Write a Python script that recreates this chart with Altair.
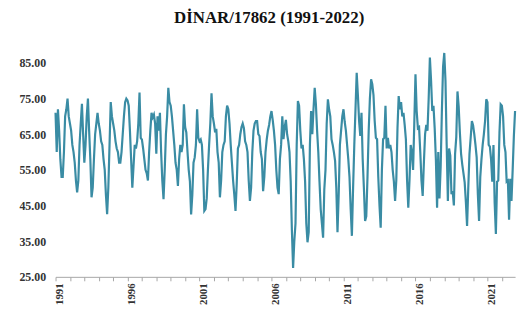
import altair as alt
import pandas as pd

# Monthly values (Jan..Dec), grouped by decade
values_1991_2000 = [
    71, 60, 72, 66, 58, 53, 53, 60, 70, 72, 75, 70,        # 1991
    68, 66, 62, 60, 57, 52, 48.7, 52, 62, 68, 73.5, 65,    # 1992
    57, 62, 70, 75, 66, 58, 47.3, 50, 58, 65, 68, 71,      # 1993
    68, 66, 63, 62, 58, 55, 48, 42.6, 50, 62, 74, 70,      # 1994
    68, 66, 63, 61, 60, 57, 57, 60, 65, 70, 74, 75,        # 1995
    74.5, 73, 66, 58, 50, 56, 62, 61, 63, 68, 76.7, 64,    # 1996
    63.5, 61, 58, 55, 54, 52, 60, 66, 71, 69.7, 70.5, 68,  # 1997
    59.5, 70, 66, 71, 60, 52, 46.8, 55, 65, 70, 78, 74,    # 1998
    73, 70, 66, 62, 57, 55, 50.5, 58, 62, 60, 62, 73.4,    # 1999
    67, 65.5, 60, 55, 51.7, 42.5, 48, 57, 58.5, 62, 72, 64,  # 2000
]
values_2001_2010 = [
    63, 63.5, 62, 55, 43.5, 44, 47, 55, 62, 68, 76.5, 70,  # 2001
    68, 65.5, 66.5, 60, 57, 47.3, 52, 60, 62, 63, 70, 73,  # 2002
    72, 68, 62, 57, 52, 48, 43.5, 51, 61, 62, 65, 67,      # 2003
    68, 66.7, 63, 62, 60, 52, 46.3, 50, 60, 66, 68, 68.7,  # 2004
    68.7, 65, 64.5, 60, 58, 49, 53, 60, 63.5, 66, 67.6, 70,  # 2005
    71.5, 69, 66, 62, 55, 50, 48.2, 58, 62, 70, 63.6, 67,  # 2006
    69, 65, 63, 60, 51.7, 38, 27.5, 35, 40, 62, 74.3, 73,  # 2007
    66, 61, 62, 58, 51.7, 40, 34.7, 37.5, 62, 71.5, 65, 72,  # 2008
    78, 73.4, 66, 60, 51.7, 44, 40, 36, 49.5, 55, 68, 74.8,  # 2009
    72, 70, 63.6, 62, 60, 57.5, 50, 37.5, 48, 62, 66, 70,  # 2010
]
values_2011_2022 = [
    72, 68.5, 66, 62, 58, 53, 44, 36.5, 50, 62, 72, 82.2,  # 2011
    76, 68.7, 64.5, 71, 58, 50, 40.7, 42, 53, 66, 75, 80.4,  # 2012
    79, 76, 68.7, 64, 63.6, 53, 45, 38.8, 55, 63.6, 64, 73,  # 2013
    61, 64, 61, 62, 60, 55, 51.7, 46.3, 52, 66.7, 75.7, 72,  # 2014
    74, 70, 71, 67.6, 63.6, 52, 44.4, 52, 62, 60, 55, 68,  # 2015
    81.8, 71.5, 66.7, 67, 60, 52, 47.7, 57, 65, 67.6, 66, 75,  # 2016
    86.5, 80, 71.5, 73, 66.7, 58, 44.4, 60, 47, 56, 71.5, 84,  # 2017
    87.8, 80, 62, 46.3, 61, 59, 48.2, 49, 45, 59.5, 64.2, 77,  # 2018
    72.8, 65.5, 59.5, 56.5, 54, 51.5, 46, 39.3, 50, 59.5, 64, 68.7,  # 2019
    67.5, 65, 62, 58.5, 48, 40.7, 53, 58, 62, 65, 68.7, 74.8,  # 2020
    74, 62, 61.5, 58, 51.7, 62, 45.7, 37, 51.7, 52, 65.5, 73.4,  # 2021
    73, 70, 62, 60, 51.7, 52, 41, 52.5, 46.3, 55, 64.5, 71.5,  # 2022
]

first_year = 1991
last_year = 2022
year_ticks = list(range(first_year, last_year + 1))
y_ticks = [25, 35, 45, 55, 65, 75, 85]

values = values_1991_2000 + values_2001_2010 + values_2011_2022
df = pd.DataFrame({
    "t": [first_year + i / 12 for i in range(len(values))],
    "v": values,
})

last_t = first_year + (len(values) - 1) / 12

FONT = "Liberation Serif"

line = alt.Chart(df).mark_line(color="#3A8CA4", strokeWidth=2.2).encode(
    x=alt.X(
        "t:Q",
        scale=alt.Scale(domain=[first_year, last_t], nice=False, zero=False),
        axis=alt.Axis(
            title=None,
            values=year_ticks,
            labelExpr="(datum.value - 1991) % 5 == 0 ? toString(datum.value) : ''",
            labelAngle=270,
            labelOffset=4,
            labelFont=FONT,
            labelFontWeight="bold",
            labelFontSize=11,
            labelColor="#333333",
            labelPadding=2,
            tickSize=4,
            tickColor="#A6A6A6",
            domainColor="#A6A6A6",
            grid=False,
            labelOverlap=False,
        ),
    ),
    y=alt.Y(
        "v:Q",
        scale=alt.Scale(domain=[25, 95], nice=False, zero=False),
        axis=alt.Axis(
            title=None,
            values=y_ticks,
            format=".2f",
            labelFont=FONT,
            labelFontWeight="bold",
            labelFontSize=12,
            labelColor="#333333",
            labelPadding=10,
            ticks=False,
            tickSize=0,
            domain=False,
            grid=False,
        ),
    ),
)

chart = line.properties(
    width=464,
    height=252,
    background="white",
    title=alt.TitleParams(
        "DİNAR/17862 (1991-2022)",
        font=FONT,
        fontSize=17,
        fontWeight="bold",
        color="#111111",
        anchor="middle",
        frame="bounds",
        offset=0,
    ),
    padding={"left": 11, "top": 0, "right": 2, "bottom": 0},
).configure_view(stroke=None)

chart.save("out.html", embed_options={"renderer": "svg", "actions": False})
